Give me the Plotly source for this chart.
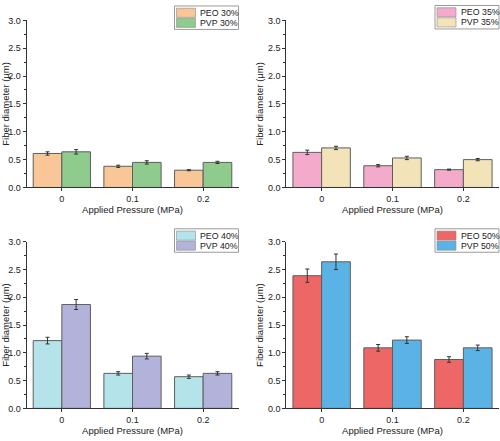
import plotly.graph_objects as go

pressure = ["0", "0.1", "0.2"]

peo30 = [0.61, 0.38, 0.31]
peo30_err = [0.03, 0.02, 0.01]
pvp30 = [0.64, 0.45, 0.45]
pvp30_err = [0.04, 0.03, 0.02]

peo35 = [0.63, 0.39, 0.32]
peo35_err = [0.04, 0.02, 0.01]
pvp35 = [0.71, 0.53, 0.50]
pvp35_err = [0.03, 0.03, 0.02]

peo40 = [1.22, 0.63, 0.57]
peo40_err = [0.06, 0.03, 0.03]
pvp40 = [1.87, 0.94, 0.63]
pvp40_err = [0.09, 0.05, 0.03]

peo50 = [2.39, 1.09, 0.88]
peo50_err = [0.12, 0.06, 0.05]
pvp50 = [2.64, 1.23, 1.09]
pvp50_err = [0.14, 0.06, 0.05]

panels = [
    ("PEO 30%", peo30, peo30_err, "#F9C797", "PVP 30%", pvp30, pvp30_err, "#8ECB8D"),
    ("PEO 35%", peo35, peo35_err, "#F4AACB", "PVP 35%", pvp35, pvp35_err, "#F3E3B8"),
    ("PEO 40%", peo40, peo40_err, "#B4E3EA", "PVP 40%", pvp40, pvp40_err, "#B2B2DA"),
    ("PEO 50%", peo50, peo50_err, "#EE6767", "PVP 50%", pvp50, pvp50_err, "#5BB3E5"),
]

W, H = 500, 441
xdoms = [[26.5 / W, 238.5 / W], [286.2 / W, 498.8 / W]]
ydoms = [[1 - 186.7 / H, 1 - 15.7 / H], [1 - 412.7 / H, 1 - 242.3 / H]]
title_standoff = [2, 0]
# legend boxes (left, top) in pixels
legend_box = [(174.5, 1.0), (435.0, 0.5), (174.5, 229.0), (435.0, 229.0)]
LEG_W, LEG_H = 64.0, 24.0

fig = go.Figure()
font_family = "Liberation Sans, Arial, sans-serif"
axis_color = "#333333"
text_color = "#222222"


def px(x):
    return x / W


def py(y):
    return 1 - y / H


shapes = []
annotations = []

for i, (n1, v1, e1, c1, n2, v2, e2, c2) in enumerate(panels):
    k = i + 1
    xa = "x" if k == 1 else f"x{k}"
    ya = "y" if k == 1 else f"y{k}"
    for name, vals, errs, col in [(n1, v1, e1, c1), (n2, v2, e2, c2)]:
        fig.add_trace(go.Bar(
            x=pressure, y=vals, name=name,
            marker=dict(color=col, line=dict(color="#5e5e5e", width=1)),
            error_y=dict(type="data", array=errs, visible=True, color="#333333", thickness=1, width=2),
            xaxis=xa, yaxis=ya, showlegend=False,
        ))
    r, c = divmod(i, 2)
    xkey = "xaxis" if k == 1 else f"xaxis{k}"
    ykey = "yaxis" if k == 1 else f"yaxis{k}"
    fig.layout[xkey] = dict(
        domain=xdoms[c], anchor=ya, type="category", range=[-0.5, 2.5],
        showline=True, linecolor=axis_color, linewidth=1,
        ticks="outside", ticklen=3, tickcolor=axis_color,
        tickfont=dict(size=9, color=text_color),
        title=dict(text="Applied Pressure (MPa)", font=dict(size=9.5, color=text_color),
                   standoff=title_standoff[r]),
        showgrid=False, zeroline=False,
    )
    fig.layout[ykey] = dict(
        domain=ydoms[r], anchor=xa, range=[0, 3.0], dtick=0.5, tickformat=".1f",
        showline=True, linecolor=axis_color, linewidth=1,
        ticks="outside", ticklen=3, tickcolor=axis_color,
        minor=dict(ticks="outside", ticklen=2, dtick=0.25, tickcolor=axis_color),
        tickfont=dict(size=9, color=text_color),
        title=dict(text="Fiber diameter (μm)", font=dict(size=9.5, color=text_color), standoff=2),
        showgrid=False, zeroline=False,
    )

    # legend (box + swatches + labels)
    lx, ly = legend_box[i]
    shapes.append(dict(type="rect", xref="paper", yref="paper",
                       x0=px(lx), x1=px(lx + LEG_W), y0=py(ly + LEG_H), y1=py(ly),
                       fillcolor="white", line=dict(color="#9a9a9a", width=1), layer="above"))
    for j, (name, col) in enumerate([(n1, c1), (n2, c2)]):
        sy0 = ly + 2.3 + j * 10.3
        sy1 = sy0 + 9.3
        shapes.append(dict(type="rect", xref="paper", yref="paper",
                           x0=px(lx + 2), x1=px(lx + 21), y0=py(sy1), y1=py(sy0),
                           fillcolor=col, line=dict(color="#8a8a8a", width=0.6), layer="above"))
        annotations.append(dict(text=name, xref="paper", yref="paper",
                                x=px(lx + 23.5), y=py((sy0 + sy1) / 2), xanchor="left", yanchor="middle",
                                showarrow=False, font=dict(size=8.8, color=text_color, family=font_family)))

fig.update_layout(
    width=W, height=H, margin=dict(l=0, r=0, t=0, b=0),
    barmode="group", bargap=0.19, bargroupgap=0,
    plot_bgcolor="white", paper_bgcolor="white",
    font=dict(family=font_family),
    showlegend=False,
    shapes=shapes, annotations=annotations,
)

fig.write_html(
    "out.html",
    config={"displayModeBar": False},
    post_script="document.body.style.margin='0';document.body.style.padding='0';document.body.style.overflow='hidden';",
)
